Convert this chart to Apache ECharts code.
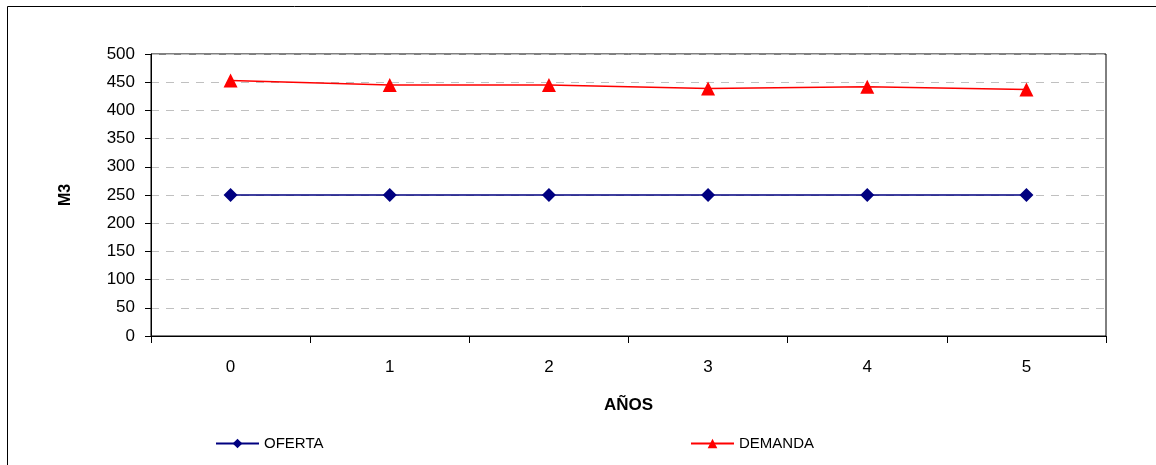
<!DOCTYPE html>
<html><head><meta charset="utf-8">
<script src="https://cdn.jsdelivr.net/npm/echarts@6/dist/echarts.min.js"></script>
<style>html,body{margin:0;padding:0;background:#fff}#c{width:1156px;height:465px}</style>
</head><body><div id="c"></div>
<script>
const categories = ['0','1','2','3','4','5'];
const oferta = [250,250,250,250,250,250];
const demanda = [453,445,445,439,442,437];
const yTicks = {min:0, max:500, interval:50};

const chart = echarts.init(document.getElementById('c'), null, {renderer:'canvas'});
const font = 'Liberation Sans, Arial, sans-serif';
chart.setOption({
  animation:false,
  backgroundColor:'#fff',
  textStyle:{fontFamily:font},
  graphic:[
    {type:'line', shape:{x1:7.5,y1:6.5,x2:1156,y2:6.5}, style:{stroke:'#000',lineWidth:1}},
    {type:'line', shape:{x1:7.5,y1:6.5,x2:7.5,y2:465}, style:{stroke:'#000',lineWidth:1}}
  ],
  grid:{left:151, right:50, top:54, bottom:129, show:true, borderColor:'#000', borderWidth:1, backgroundColor:'transparent'},
  legend:[
    {data:['OFERTA'], left:215, top:436, padding:0, itemWidth:43, itemHeight:12, itemGap:5,
     textStyle:{fontFamily:font, fontSize:15, color:'#000'}},
    {data:['DEMANDA'], left:690, top:436, padding:0, itemWidth:43, itemHeight:12, itemGap:5,
     textStyle:{fontFamily:font, fontSize:15, color:'#000'}}
  ],
  xAxis:{type:'category', data:categories, boundaryGap:true,
    name:'AÑOS', nameLocation:'middle', nameGap:61,
    nameTextStyle:{fontFamily:font, fontSize:17, fontWeight:'bold', color:'#000'},
    axisLine:{lineStyle:{color:'#000', width:1}},
    axisTick:{show:true, length:7, lineStyle:{color:'#000'}},
    axisLabel:{fontFamily:font, fontSize:17, color:'#000', margin:23}
  },
  yAxis:{type:'value', min:yTicks.min, max:yTicks.max, interval:yTicks.interval,
    name:'M3', nameLocation:'middle', nameGap:77, nameRotate:90,
    nameTextStyle:{fontFamily:font, fontSize:16, fontWeight:'bold', color:'#000'},
    axisLine:{show:true, lineStyle:{color:'#000', width:1}},
    axisTick:{show:true, length:6, lineStyle:{color:'#000'}},
    axisLabel:{fontFamily:font, fontSize:17, color:'#000', margin:16},
    splitLine:{show:true, lineStyle:{color:'#c0c0c0', type:[8,7], width:1}}
  },
  series:[
    {name:'OFERTA', type:'line', data:oferta, symbol:'diamond', symbolSize:14,
     itemStyle:{color:'#000080'}, lineStyle:{color:'#000080', width:1.5}},
    {name:'DEMANDA', type:'line', data:demanda, symbol:'triangle', symbolSize:[14,14],
     itemStyle:{color:'#ff0000'}, lineStyle:{color:'#ff0000', width:1.5}}
  ]
});
</script></body></html>
